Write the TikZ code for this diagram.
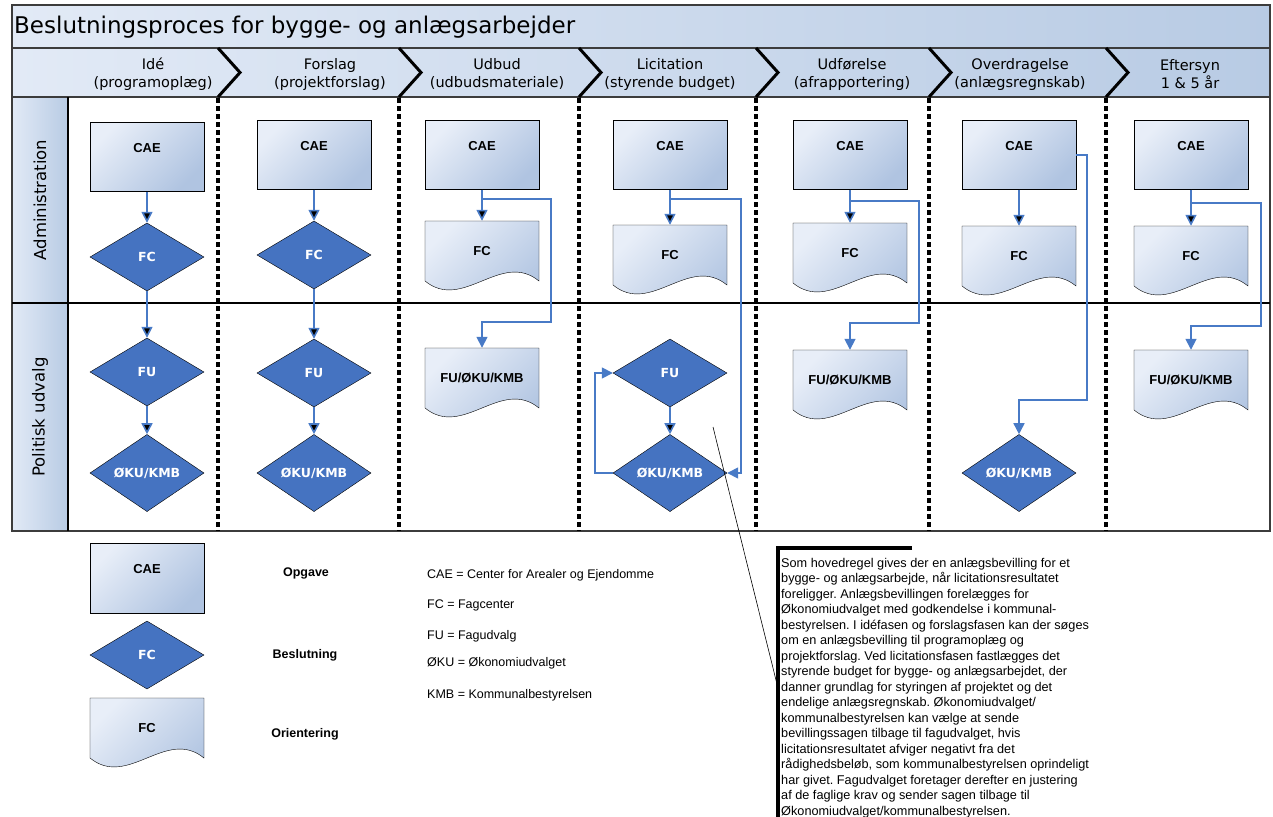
\documentclass[tikz,border=0pt]{standalone}
\usepackage{fontspec}
\setmainfont{Liberation Sans}
\newfontfamily\verdana{DejaVu Sans}
\usetikzlibrary{shapes.geometric,arrows.meta,calc}
\frenchspacing

\definecolor{boxlight}{RGB}{232,238,248}
\definecolor{boxdark}{RGB}{176,196,225}
\definecolor{bandlight}{RGB}{226,234,246}
\definecolor{banddark}{RGB}{184,203,228}
\definecolor{decblue}{RGB}{69,115,193}
\definecolor{flowblue}{RGB}{72,122,198}
\definecolor{framegray}{RGB}{60,60,60}

\begin{document}
\begin{tikzpicture}
  [x=1pt,y=-1pt,>={Triangle[width=11pt,length=11pt]},
  box fill/.style={left color=boxlight,right color=boxdark,shading angle=45},
  task node/.style={rectangle,draw,box fill,minimum width=114pt,minimum height=69pt,
    inner sep=0pt,text height=9pt,text depth=18pt,font=\bfseries\fontsize{13}{15}\selectfont},
  doc node/.style={rectangle,minimum width=114pt,minimum height=60pt,inner sep=0pt,
    font=\bfseries\fontsize{13}{15}\selectfont},
  decision node/.style={diamond,draw,fill=decblue,text=white,minimum width=114pt,
    minimum height=68pt,inner sep=0pt,font=\verdana\bfseries\fontsize{12.5}{14}\selectfont},
  flow/.style={draw=flowblue,line width=1.6pt,->},
  phase/.style={align=center,inner sep=0pt,font=\verdana\fontsize{14.5}{18}\selectfont},
  lane/.style={rotate=90,inner sep=0pt,font=\verdana\fontsize{16.5}{18}\selectfont},
  legend text/.style={inner sep=0pt,font=\bfseries\fontsize{12.5}{14}\selectfont},
  abbrev/.style={anchor=west,inner sep=0pt,font=\fontsize{12.5}{14}\selectfont},
  band/.style={left color=bandlight,right color=banddark},
  frame/.style={draw=framegray,line width=2pt},
  sep line/.style={line width=3.2pt,dash pattern=on 5pt off 3pt},
  chevron/.style={line width=3pt}]
  \useasboundingbox (0,0) rectangle (1273,816);

  % bands and swimlanes
  \shade[band] (12,5) rectangle (1270,48);
  \shade[band] (12,48) rectangle (1270,97);
  \shade[band] (12,97) rectangle (68,531);
  \draw[frame] (12,5) rectangle (1270,531);
  \draw[frame] (12,48) -- (1270,48);
  \draw[frame] (12,97) -- (1270,97);
  \draw[line width=1.5pt] (12,303) -- (1270,303);
  \draw[line width=1.5pt] (68,97) -- (68,531);
  \foreach \x in {218,399,579,756,929,1106} {
    \draw[sep line] (\x,98) -- (\x,531);
    \draw[chevron] (\x,48) -- (\x+22,72.5) -- (\x,97);
  }

  \node[anchor=west,inner sep=2pt,font=\verdana\fontsize{23}{26}\selectfont] (title) at (12,27)
    {Beslutningsproces for bygge- og anlægsarbejder};
  \node[phase] (ph1) at (153,74) {Idé\\(programoplæg)};
  \node[phase] (ph2) at (330,74) {Forslag\\(projektforslag)};
  \node[phase] (ph3) at (497,74) {Udbud\\(udbudsmateriale)};
  \node[phase] (ph4) at (670,74) {Licitation\\(styrende budget)};
  \node[phase] (ph5) at (852,74) {Udførelse\\(afrapportering)};
  \node[phase] (ph6) at (1020,74) {Overdragelse\\(anlægsregnskab)};
  \node[phase] (ph7) at (1190,74) {Eftersyn\\1 \& 5 år};
  \node[lane] (lane1) at (40,200) {Administration};
  \node[lane] (lane2) at (40,417) {Politisk udvalg};

  % document outlines
  \foreach \x/\y in {482/251,670/255,850/253,1019/256,1191/256,482/378,850/380,1191/380,147/728}
    \shade[box fill,draw,shift={(\x,\y)}] (-57,-30) -- (57,-30) -- (57,30)
      .. controls (19,-1) and (-19,61) .. (-57,30) -- cycle;

  \node[task node] (cae1) at (147,157) {CAE};
  \node[task node] (cae2) at (314,155) {CAE};
  \node[task node] (cae3) at (482,155) {CAE};
  \node[task node] (cae4) at (670,155) {CAE};
  \node[task node] (cae5) at (850,155) {CAE};
  \node[task node] (cae6) at (1019,155) {CAE};
  \node[task node] (cae7) at (1191,155) {CAE};

  \node[decision node] (fc1) at (147,257) {FC};
  \node[decision node] (fc2) at (314,255) {FC};
  \node[doc node] (fc3) at (482,251) {FC};
  \node[doc node] (fc4) at (670,255) {FC};
  \node[doc node] (fc5) at (850,253) {FC};
  \node[doc node] (fc6) at (1019,256) {FC};
  \node[doc node] (fc7) at (1191,256) {FC};

  \node[decision node] (fu1) at (147,372) {FU};
  \node[decision node] (fu2) at (314,373) {FU};
  \node[decision node] (fu4) at (670,373) {FU};
  \node[doc node] (kmb3) at (482,378) {FU/ØKU/KMB};
  \node[doc node] (kmb5) at (850,380) {FU/ØKU/KMB};
  \node[doc node] (kmb7) at (1191,380) {FU/ØKU/KMB};
  \node[decision node] (oku1) at (147,473) {ØKU/KMB};
  \node[decision node] (oku2) at (314,473) {ØKU/KMB};
  \node[decision node] (oku4) at (670,473) {ØKU/KMB};
  \node[decision node] (oku6) at (1019,473) {ØKU/KMB};

  \path[flow] (cae1) edge (fc1) (fc1) edge (fu1) (fu1) edge (oku1)
    (cae2) edge (fc2) (fc2) edge (fu2) (fu2) edge (oku2)
    (cae3) edge (fc3) (cae4) edge (fc4) (cae5) edge (fc5)
    (cae6) edge (fc6) (cae7) edge (fc7) (fu4) edge (oku4);
  \draw[flow] ($(cae3.south)+(0,9)$) -| ($(kmb3.north)+(69,-26)$) -| (kmb3.north);
  \draw[flow] ($(cae4.south)+(0,9)$) -| ($(oku4.east)+(14,0)$) -- (oku4.east);
  \draw[flow] (oku4.west) -- ++(-18,0) |- (fu4.west);
  \draw[flow] ($(cae5.south)+(0,11)$) -| ($(kmb5.north)+(69,-27)$) -| (kmb5.north);
  \draw[flow] (cae6.east) -| ($(oku6.north)+(68,-34)$) -| (oku6.north);
  \draw[flow] ($(cae7.south)+(0,13)$) -| ($(kmb7.north)+(70,-24)$) -| (kmb7.north);

  % legend
  \node[task node,minimum height=70pt] (lcae) at (147,578) {CAE};
  \node[decision node] (lfc) at (147,655) {FC};
  \node[doc node] (ldoc) at (147,728) {FC};
  \node[legend text] (lg1) at (306,573) {Opgave};
  \node[legend text] (lg2) at (305,655) {Beslutning};
  \node[legend text] (lg3) at (305,734) {Orientering};
  \node[abbrev] (ab1) at (427,575) {CAE = Center for Arealer og Ejendomme};
  \node[abbrev] (ab2) at (427,605) {FC = Fagcenter};
  \node[abbrev] (ab3) at (427,636) {FU = Fagudvalg};
  \node[abbrev] (ab4) at (427,663) {ØKU = Økonomiudvalget};
  \node[abbrev] (ab5) at (427,695) {KMB = Kommunalbestyrelsen};

  % note
  \node[anchor=north west,align=left,inner sep=0pt,font=\fontsize{12.7}{15.5}\selectfont] (memo) at (781,558)
    {Som hovedregel gives der en anlægsbevilling for et\\
     bygge- og anlægsarbejde, når licitationsresultatet\\
     foreligger. Anlægsbevillingen forelægges for\\
     Økonomiudvalget med godkendelse i kommunal-\\
     bestyrelsen. I idéfasen og forslagsfasen kan der søges\\
     om en anlægsbevilling til programoplæg og\\
     projektforslag. Ved licitationsfasen fastlægges det\\
     styrende budget for bygge- og anlægsarbejdet, der\\
     danner grundlag for styringen af projektet og det\\
     endelige anlægsregnskab. Økonomiudvalget/\\
     kommunalbestyrelsen kan vælge at sende\\
     bevillingssagen tilbage til fagudvalget, hvis\\
     licitationsresultatet afviger negativt fra det\\
     rådighedsbeløb, som kommunalbestyrelsen oprindeligt\\
     har givet. Fagudvalget foretager derefter en justering\\
     af de faglige krav og sender sagen tilbage til\\
     Økonomiudvalget/kommunalbestyrelsen.};
  \draw[line width=3.5pt] ([shift={(131pt,10pt)}]memo.north west) -| ([xshift=-3pt,yshift=-4pt]memo.south west);
  \coordinate (note) at (713,427);
  \draw[line width=0.6pt] (note) -- ([xshift=-3pt]memo.west);
\end{tikzpicture}
\end{document}
